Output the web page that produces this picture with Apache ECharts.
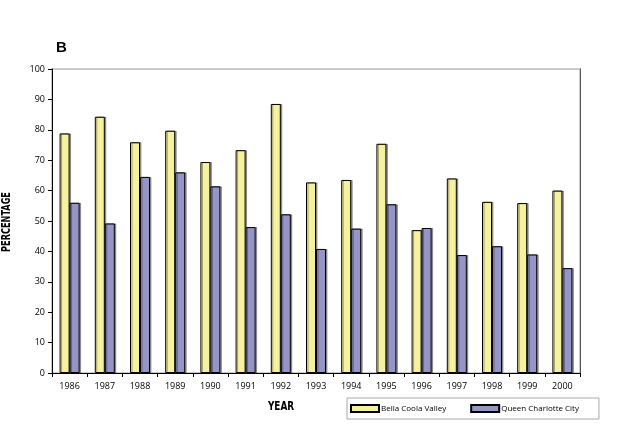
<!DOCTYPE html>
<html>
<head>
<meta charset="utf-8">
<script src="https://cdn.jsdelivr.net/npm/echarts@6/dist/echarts.min.js"></script>
<style>
  html, body { margin: 0; padding: 0; background: #fff; }
  #chart { width: 625px; height: 424px; }
</style>
</head>
<body>
<div id="chart"></div>
<script>
// data
var years = ['1986', '1987', '1988', '1989', '1990', '1991', '1992', '1993',
             '1994', '1995', '1996', '1997', '1998', '1999', '2000'];
var bellaCoola = [78.8, 84.3, 75.9, 79.7, 69.4, 73.3, 88.5, 62.7,
                  63.5, 75.4, 47.0, 64.0, 56.3, 55.9, 60.0];
var queenCharlotte = [56.0, 49.2, 64.5, 66.0, 61.4, 48.0, 52.2, 40.8,
                      47.5, 55.5, 47.7, 38.8, 41.7, 39.0, 34.5];

var chart = echarts.init(document.getElementById('chart'));

var labelFont = '"Open Sans", "Noto Sans", sans-serif';
var condFont = 'bold 13px "DejaVu Sans Condensed", "DejaVu Sans"';

var option = {
  backgroundColor: '#ffffff',
  animation: false,
  title: {
    text: 'B',
    left: 51,
    top: 35,
    textStyle: { fontFamily: '"Liberation Sans", Arial', fontWeight: 'bold', fontSize: 15, color: '#000' }
  },
  legend: {
    left: 347,
    top: 398,
    padding: [6, 20, 6, 3],
    borderColor: '#aaa',
    borderWidth: 1,
    icon: 'rect',
    itemWidth: 28,
    itemHeight: 7,
    itemGap: 24,
    textStyle: { fontFamily: '"Open Sans", "Noto Sans", sans-serif', fontSize: 8, color: '#000', padding: [0, 0, 0, -3] },
    data: ['Bella Coola Valley', 'Queen Charlotte City']
  },
  grid: { left: 52, right: 45, top: 69, bottom: 51, show: true, borderColor: '#bbb', borderWidth: 1.5 },
  xAxis: {
    type: 'category',
    data: years,
    axisLine: { lineStyle: { color: '#000', width: 1 } },
    axisTick: { show: true, length: 4, lineStyle: { color: '#000' } },
    axisLabel: { fontFamily: labelFont, fontSize: 9, color: '#000', margin: 9 }
  },
  yAxis: [
    {
      type: 'value',
      min: 0,
      max: 100,
      interval: 10,
      axisLine: { show: true, lineStyle: { color: '#000', width: 1 } },
      axisTick: { show: true, length: 4, lineStyle: { color: '#000' } },
      axisLabel: { fontFamily: labelFont, fontSize: 9, color: '#000', margin: 7 },
      splitLine: { show: false }
    },
    {
      type: 'value',
      min: 0,
      max: 100,
      position: 'right',
      axisLine: { show: true, lineStyle: { color: '#555', width: 1 } },
      axisTick: { show: false },
      axisLabel: { show: false },
      splitLine: { show: false }
    }
  ],
  graphic: [
    {
      type: 'text',
      x: 7,
      y: 222,
      rotation: Math.PI / 2,
      scaleX: 0.7,
      style: { text: 'PERCENTAGE', font: condFont, fill: '#000', align: 'center', verticalAlign: 'middle' }
    },
    {
      type: 'text',
      x: 281,
      y: 407,
      scaleX: 0.76,
      style: { text: 'YEAR', font: condFont, fill: '#000', align: 'center', verticalAlign: 'middle' }
    }
  ],
  series: [
    {
      name: 'Bella Coola Valley',
      type: 'bar',
      data: bellaCoola,
      barWidth: 10,
      barGap: '0%',
      itemStyle: {
        color: '#f6f19f',
        borderColor: '#000',
        borderWidth: 1,
        shadowColor: 'rgba(0,0,0,0.35)',
        shadowOffsetX: 1.5,
        shadowOffsetY: 0
      }
    },
    {
      name: 'Queen Charlotte City',
      type: 'bar',
      data: queenCharlotte,
      barWidth: 10,
      barGap: '0%',
      itemStyle: {
        color: '#9595c8',
        borderColor: '#000',
        borderWidth: 1,
        shadowColor: 'rgba(0,0,0,0.35)',
        shadowOffsetX: 1.5,
        shadowOffsetY: 0
      }
    }
  ]
};

option && chart.setOption(option);
</script>
</body>
</html>
